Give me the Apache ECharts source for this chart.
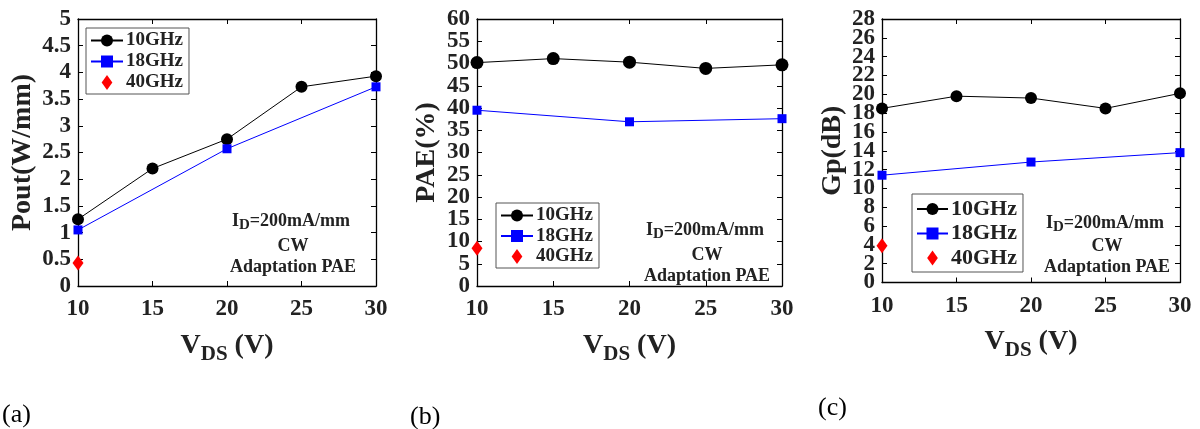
<!DOCTYPE html>
<html>
<head>
<meta charset="utf-8">
<script src="https://cdn.jsdelivr.net/npm/echarts@6/dist/echarts.min.js"></script>
<style>
html,body{margin:0;padding:0;background:#fff;}
#chart{width:1200px;height:429px;}
</style>
</head>
<body>
<div id="chart"></div>
<script>
// ---- data ----
const vds10 = [10, 15, 20, 25, 30];
const vds18 = [10, 20, 30];
const vds40 = [10];
const seriesNames = ['10GHz', '18GHz', '40GHz'];

const pout10 = [1.25, 2.20, 2.75, 3.73, 3.93];
const pout18 = [1.05, 2.57, 3.73];
const pout40 = [0.43];

const pae10 = [50.2, 51.1, 50.3, 48.9, 49.7];
const pae18 = [39.5, 36.9, 37.6];
const pae40 = [8.5];

const gp10 = [18.5, 19.8, 19.6, 18.5, 20.1];
const gp18 = [11.4, 12.8, 13.8];
const gp40 = [3.9];

// tick labels (bottom to top)
const poutTicks = ['0', '0.5', '1', '1.5', '2', '2.5', '3', '3.5', '4', '4.5', '5'];
const paeTicks = ['0', '5', '10', '15', '20', '25', '30', '35', '40', '45', '50', '55', '60'];
const gpTicks = ['0', '2', '4', '6', '8', '10', '12', '14', '16', '18', '20', '22', '24', '26', '28'];

const yNames = ['Pout(W/mm)', 'PAE(%)', 'Gp(dB)'];
const yRanges = [[0, 5, 0.5], [0, 60, 5], [0, 28, 2]];
const yTickLabels = [poutTicks, paeTicks, gpTicks];
const xRange = [10, 30, 5];
const captions = ['(a)', '(b)', '(c)'];

// ---- layout ----
const FONT = 'Liberation Serif';
const grids = [
  {left: 78, top: 19, width: 298, height: 267},
  {left: 477, top: 19, width: 305, height: 267},
  {left: 882, top: 19, width: 298, height: 263.5}
];
const yNameGap = [41, 36, 35];
const symSize = [12, 13, 12];

function pairs(xs, ys) { return xs.map((x, i) => [x, ys[i]]); }

const lineBlack = {show: true, onZero: false, lineStyle: {color: '#000', width: 1.3}};
const tickIn = {show: true, inside: true, length: 5, lineStyle: {color: '#000'}};

const xAxes = [], yAxes = [];
for (let p = 0; p < 3; p++) {
  xAxes.push({
    type: 'value', gridIndex: p, min: xRange[0], max: xRange[1], interval: xRange[2],
    position: 'bottom', axisLine: lineBlack, axisTick: tickIn, splitLine: {show: false},
    axisLabel: {fontFamily: FONT, fontWeight: 'bold', fontSize: 23, color: '#222', margin: 12,
      showMinLabel: true, showMaxLabel: true},
    name: '{v|V}{s|DS}{v| (V)}',
    nameLocation: 'middle', nameGap: 42,
    nameTextStyle: {
      fontFamily: FONT, fontWeight: 'bold', color: '#222',
      rich: {
        v: {fontFamily: FONT, fontWeight: 'bold', fontSize: 28, color: '#222', verticalAlign: 'top', lineHeight: 28},
        s: {fontFamily: FONT, fontWeight: 'bold', fontSize: 21, color: '#222', lineHeight: 20, padding: [18, 0, 0, 0]}
      }
    }
  });
  // value axis used by the data (drawn on the right side)
  yAxes.push({
    type: 'value', gridIndex: p, min: yRanges[p][0], max: yRanges[p][1], interval: yRanges[p][2],
    position: 'right', axisLine: lineBlack, axisTick: tickIn, splitLine: {show: false},
    axisLabel: {show: false}
  });
}
for (let p = 0; p < 3; p++) {
  xAxes.push({
    type: 'value', gridIndex: p, min: xRange[0], max: xRange[1], interval: xRange[2],
    position: 'top', axisLine: lineBlack, axisTick: tickIn, splitLine: {show: false},
    axisLabel: {show: false}
  });
  // left labelled axis (tick labels)
  yAxes.push({
    type: 'category', gridIndex: p, data: yTickLabels[p], boundaryGap: false,
    position: 'left', axisLine: lineBlack,
    axisTick: Object.assign({interval: 0}, tickIn), splitLine: {show: false},
    axisLabel: {interval: 0, fontFamily: FONT, fontWeight: 'bold', fontSize: 23, color: '#222', margin: 7},
    name: yNames[p], nameLocation: 'middle', nameGap: yNameGap[p],
    nameTextStyle: {fontFamily: FONT, fontWeight: 'bold', fontSize: 28, color: '#222'}
  });
}

const dataSets = [
  [pout10, pout18, pout40],
  [pae10, pae18, pae40],
  [gp10, gp18, gp40]
];

const series = [];
for (let p = 0; p < 3; p++) {
  const [d10, d18, d40] = dataSets[p];
  series.push({
    name: seriesNames[0], type: 'line', xAxisIndex: p, yAxisIndex: p,
    data: pairs(vds10, d10), symbol: 'circle', symbolSize: symSize[p],
    lineStyle: {color: '#000', width: 1}, itemStyle: {color: '#000'}, z: 3
  });
  series.push({
    name: seriesNames[1], type: 'line', xAxisIndex: p, yAxisIndex: p,
    data: pairs(vds18, d18), symbol: 'rect', symbolSize: 9,
    lineStyle: {color: '#0000ff', width: 1}, itemStyle: {color: '#0000ff'}, z: 3
  });
  series.push({
    name: seriesNames[2], type: 'scatter', xAxisIndex: p, yAxisIndex: p,
    data: pairs(vds40, d40), symbol: 'diamond', symbolSize: [11, 15],
    itemStyle: {color: '#ff0000', opacity: 1}, z: 4
  });
}

const legendCfg = [
  {left: 86, top: 28, fs: 19, gap: 3, w: 32, pad: [3, 6, 2, 4]},
  {left: 496, top: 203, fs: 19, gap: 2.5, w: 32, pad: [3, 6, 2, 4]},
  {left: 912, top: 194, fs: 22, gap: 3.5, w: 31, pad: [4, 6, 3, 4]}
];
const diamondIcon = 'path://M5,0 L10,7 L5,14 L0,7 Z';
const legends = legendCfg.map(c => ({
  data: [{name: seriesNames[0]}, {name: seriesNames[1]}, {name: seriesNames[2], icon: diamondIcon}],
  orient: 'vertical', left: c.left, top: c.top,
  itemWidth: c.w, itemHeight: 15, itemGap: c.gap - 1, padding: c.pad,
  symbolKeepAspect: true,
  borderColor: '#555', borderWidth: 1, backgroundColor: '#fff',
  selectedMode: false,
  textStyle: {fontFamily: FONT, fontWeight: 'bold', fontSize: c.fs, color: '#222', padding: [0, 0, 0, -2]}
}));

const annot = [[293, 218, 28], [707, 227, 28], [1107, 220, 26]];
const graphics = [];
annot.forEach(([cx, cy, dy]) => {
  graphics.push({
    type: 'text', left: cx - 61, top: cy - 9,
    style: {
      text: '{i|I}{d|D}{i|=200mA/mm}',
      rich: {
        i: {fontFamily: FONT, fontWeight: 'bold', fontSize: 18, fill: '#222', verticalAlign: 'top', lineHeight: 18},
        d: {fontFamily: FONT, fontWeight: 'bold', fontSize: 15, fill: '#222', lineHeight: 14, padding: [9, 0, 0, 0]}
      }
    }
  });
  graphics.push({
    type: 'text', x: cx, y: cy + dy,
    style: {text: 'CW', font: 'bold 18px "Liberation Serif"', fill: '#222', align: 'center', verticalAlign: 'middle'}
  });
  graphics.push({
    type: 'text', x: cx, y: cy + dy + 21,
    style: {text: 'Adaptation PAE', font: 'bold 18px "Liberation Serif"', fill: '#222', align: 'center', verticalAlign: 'middle'}
  });
});
const capPos = [[2, 415], [410, 417], [818, 408]];
capPos.forEach(([x, y], i) => {
  graphics.push({
    type: 'text', x: x, y: y,
    style: {text: captions[i], font: '26px "Liberation Serif"', fill: '#000', align: 'left', verticalAlign: 'middle'}
  });
});

const chart = echarts.init(document.getElementById('chart'), null, {renderer: 'canvas'});
chart.setOption({
  animation: false,
  backgroundColor: '#fff',
  grid: grids.map(g => Object.assign({containLabel: false}, g)),
  xAxis: xAxes,
  yAxis: yAxes,
  legend: legends,
  series: series,
  graphic: graphics
});
</script>
</body>
</html>
